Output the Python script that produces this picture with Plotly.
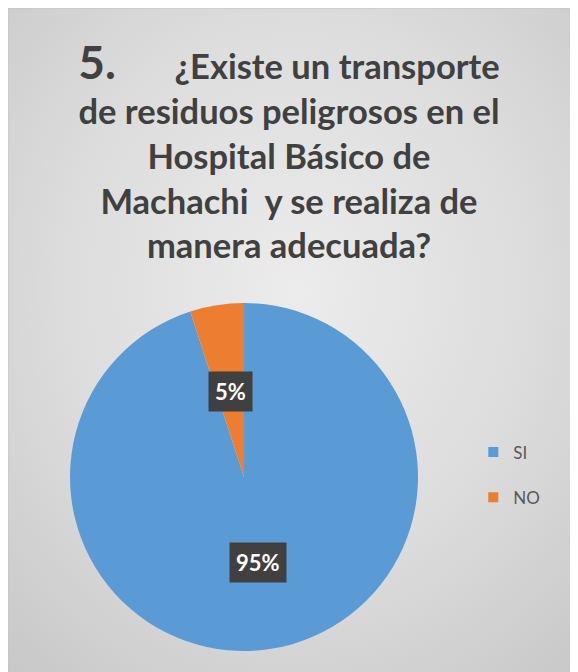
import math
import urllib.parse
import plotly.graph_objects as go

W, H = 578, 672

labels = ["SI", "NO"]
values = [95, 5]
colors = ["#5B9BD5", "#ED7D31"]
title_lines = [
    "¿Existe un transporte",
    "de residuos peligrosos en el",
    "Hospital Básico de",
    "Machachi\u00a0 y se realiza de",
    "manera adecuada?",
]
question_no = "5."

# pie geometry in figure pixels
cx_px, cy_px, r_px = 236, 469, 174

# soft radial grey background, like the office chart style
svg = (
    "<svg xmlns='http://www.w3.org/2000/svg' width='578' height='672'>"
    "<defs><radialGradient id='g' cx='50%' cy='42%' r='75%'>"
    "<stop offset='0' stop-color='#ececec'/>"
    "<stop offset='0.55' stop-color='#dcdcdc'/>"
    "<stop offset='1' stop-color='#c8c8c8'/>"
    "</radialGradient></defs>"
    "<rect width='578' height='672' fill='url(#g)'/>"
    "</svg>"
)
bg_src = "data:image/svg+xml;charset=utf-8," + urllib.parse.quote(svg)

fig = go.Figure()

fig.add_trace(go.Pie(
    labels=labels,
    values=values,
    marker=dict(colors=colors, line=dict(width=0)),
    sort=False,
    direction="clockwise",
    rotation=0,
    textinfo="none",
    hoverinfo="label+percent",
    showlegend=False,
    domain=dict(x=[(cx_px - r_px) / W, (cx_px + r_px) / W],
                y=[1 - (cy_px + r_px) / H, 1 - (cy_px - r_px) / H]),
))

# legend entries (one group each so they can be spaced out like the original)
for lab, col in zip(labels, colors):
    fig.add_trace(go.Scatter(
        x=[None], y=[None], mode="markers", name=lab, legendgroup=lab,
        marker=dict(symbol="square", size=10, color=col),
    ))

# data labels at the middle of each slice
total = sum(values)
cum = 0
for v in values:
    mid = (cum + v / 2) / total * 2 * math.pi
    cum += v
    lx = cx_px + 0.5 * r_px * math.sin(mid)
    ly = cy_px - 0.5 * r_px * math.cos(mid)
    fig.add_annotation(
        x=lx / W, y=1 - ly / H, xref="paper", yref="paper",
        xanchor="center", yanchor="middle",
        text=f"<b>{round(v / total * 100)}%</b>", showarrow=False,
        font=dict(family="Lato", size=22, color="white"),
        bgcolor="#404040", borderpad=6,
    )

title_text = (f"<span style='font-size:46px'>{question_no}</span>"
              + "\u00a0" * 7 + "<br>".join(title_lines))

fig.update_layout(
    width=W, height=H,
    margin=dict(l=0, r=0, t=0, b=0),
    paper_bgcolor="#d8d8d8",
    plot_bgcolor="rgba(0,0,0,0)",
    title=dict(text=f"<b>{title_text}</b>", x=281 / W, xanchor="center",
               y=1 - 71 / H, yanchor="top",
               font=dict(family="Lato", size=34.5, color="#404040")),
    xaxis=dict(visible=False), yaxis=dict(visible=False),
    legend=dict(x=0.805, y=1 - 467 / H, xanchor="left", yanchor="middle",
                font=dict(family="Lato", size=17, color="#595959"),
                tracegroupgap=20, bgcolor="rgba(0,0,0,0)"),
    images=[dict(source=bg_src, xref="paper", yref="paper",
                 x=0, y=1, sizex=1, sizey=1,
                 xanchor="left", yanchor="top", sizing="stretch", layer="below")],
    shapes=[dict(type="rect", xref="paper", yref="paper",
                 x0=0, x1=564 / W, y0=0, y1=1,
                 line=dict(color="#c4c4c4", width=1))],
)

fig.write_html("out.html")
